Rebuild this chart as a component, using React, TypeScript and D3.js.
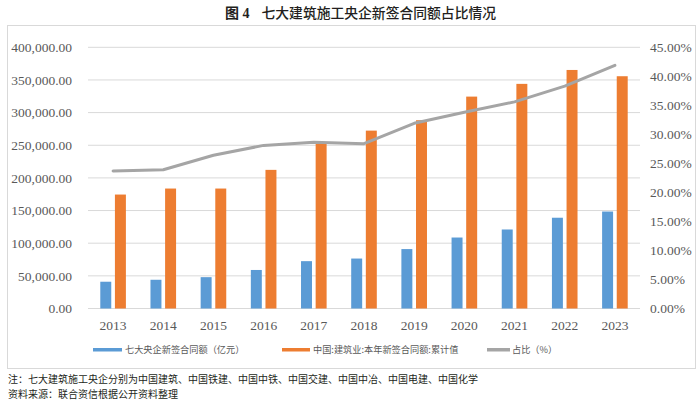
import React from "react";
import * as d3 from "d3";

const years = ["2013","2014","2015","2016","2017","2018","2019","2020","2021","2022","2023"];
const soeContracts = [41000, 44000, 48000, 59000, 72500, 76500, 91000, 108700, 121000, 139000, 148500];
const nationalContracts = [174500, 183700, 183700, 212300, 253000, 272400, 288300, 324500, 344000, 365300, 355700];
const sharePct = [23.7, 23.9, 26.4, 28.1, 28.65, 28.4, 31.9, 33.8, 35.6, 38.3, 41.9];
const leftTicks = [0, 50000, 100000, 150000, 200000, 250000, 300000, 350000, 400000];
const rightTicks = [0, 5, 10, 15, 20, 25, 30, 35, 40, 45];
const seriesNames = ["七大央企新签合同额（亿元）", "中国:建筑业:本年新签合同额:累计值", "占比（%）"];
const figLabel = "图 4";
const titleText = "七大建筑施工央企新签合同额占比情况";
const noteText = "注：七大建筑施工央企分别为中国建筑、中国铁建、中国中铁、中国交建、中国中冶、中国电建、中国化学";
const sourceText = "资料来源：联合资信根据公开资料整理";

const BLUE = "#5B9BD5";
const ORANGE = "#ED7D31";
const GRAY = "#A5A5A5";
const serif = "'Liberation Serif', 'Noto Sans CJK SC', serif";
const cjk = "'Noto Sans CJK SC', 'Liberation Serif', serif";

export default function App() {
  const x = d3.scaleBand<string>().domain(years).range([88, 640]);
  const inner = d3.scaleBand<string>().domain(["a", "b"]).range([-12.8, 12.8]).paddingInner(0.25);
  const yL = d3.scaleLinear().domain([0, 400000]).range([308.5, 47.3]);
  const yR = d3.scaleLinear().domain([0, 45]).range([308.5, 47.3]);
  const fmt = d3.format(",.2f");
  const cx = (yr: string) => (x(yr) as number) + x.bandwidth() / 2;
  const line = d3.line<number>().x((_, i) => cx(years[i])).y((d) => yR(d));

  return (
    <div style={{ position: "fixed", left: 0, top: 0 }}>
      <svg width={700} height={402} style={{ display: "block", background: "#fff" }}>
        <text x={225} y={18} fontFamily={serif} fontSize={14} fontWeight={700} fill="#231F20">{figLabel}</text>
        <text x={261.5} y={18} fontFamily={cjk} fontSize={13.8} fontWeight={500} fill="#231F20">{titleText}</text>
        <rect x={7.5} y={25.5} width={688} height={343} fill="none" stroke="#D9D9D9" />
        {leftTicks.map((t) => (
          <g key={t}>
            <line x1={88} x2={640} y1={yL(t)} y2={yL(t)} stroke="#D9D9D9" strokeWidth={1} />
            <text x={72} y={yL(t)} dy="0.35em" textAnchor="end" fontFamily={serif} fontSize={13.5} fill="#595959">{fmt(t)}</text>
          </g>
        ))}
        {rightTicks.map((t) => (
          <text key={t} x={650} y={yR(t)} dy="0.35em" fontFamily={serif} fontSize={13.5} fill="#595959">{t.toFixed(2) + "%"}</text>
        ))}
        {years.map((yr, i) => (
          <g key={yr}>
            <rect x={cx(yr) + (inner("a") as number)} width={inner.bandwidth()} y={yL(soeContracts[i])} height={yL(0) - yL(soeContracts[i])} fill={BLUE} />
            <rect x={cx(yr) + (inner("b") as number)} width={inner.bandwidth()} y={yL(nationalContracts[i])} height={yL(0) - yL(nationalContracts[i])} fill={ORANGE} />
            <text x={cx(yr)} y={325} dy="0.35em" textAnchor="middle" fontFamily={serif} fontSize={13.5} fill="#595959">{yr}</text>
          </g>
        ))}
        <path d={line(sharePct) || ""} fill="none" stroke={GRAY} strokeWidth={3} strokeLinejoin="round" strokeLinecap="round" />
        <rect x={93} y={348} width={29} height={3.5} fill={BLUE} />
        <text x={125} y={350} dy="0.35em" fontFamily={cjk} fontSize={9.2} fill="#595959">{seriesNames[0]}</text>
        <rect x={282} y={348} width={28} height={3.5} fill={ORANGE} />
        <text x={313} y={350} dy="0.35em" fontFamily={cjk} fontSize={9.2} fill="#595959">{seriesNames[1]}</text>
        <rect x={487} y={348} width={23} height={3.5} fill={GRAY} />
        <text x={512} y={350} dy="0.35em" fontFamily={cjk} fontSize={9.2} fill="#595959">{seriesNames[2]}</text>
        <text x={8} y={383} fontFamily={cjk} fontSize={10} fill="#231F20">{noteText}</text>
        <text x={8} y={398} fontFamily={cjk} fontSize={10} fill="#231F20">{sourceText}</text>
      </svg>
    </div>
  );
}
